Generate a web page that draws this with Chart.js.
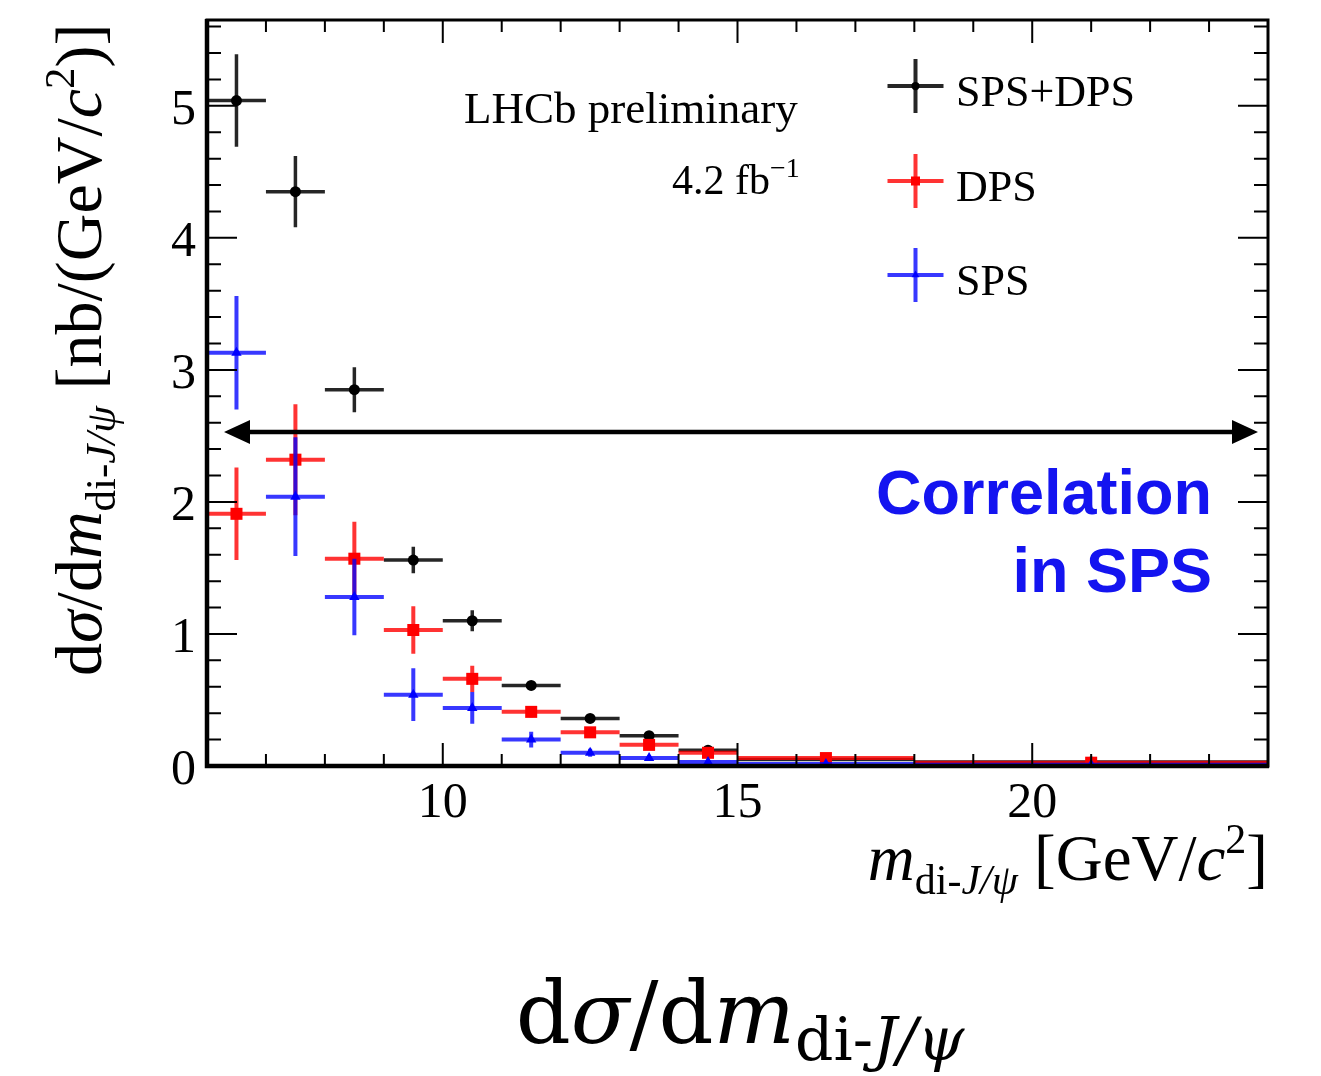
<!DOCTYPE html>
<html>
<head>
<meta charset="utf-8">
<script src="https://cdn.jsdelivr.net/npm/chart.js@4.4.1/dist/chart.umd.min.js"></script>
<style>
  html, body { margin: 0; padding: 0; background: #fff; }
  #wrap { width: 1321px; height: 1076px; }
</style>
</head>
<body>
<div id="wrap"><canvas id="chart" width="1321" height="1076"></canvas></div>
<script>
// bin edges of m(di-J/psi) [GeV/c^2]
const binEdges = [6, 7, 8, 9, 10, 11, 12, 13, 14, 15, 18, 24];

// dsigma/dm [nb/(GeV/c^2)] with errors
const totalValues = [5.04, 4.35, 2.85, 1.56, 1.10, 0.61, 0.36, 0.23, 0.12, 0.05, 0.03];
const totalErrors = [0.35, 0.27, 0.17, 0.10, 0.08, 0.03, 0.02, 0.02, 0.02, 0.01, 0.01];
const dpsValues = [1.91, 2.32, 1.57, 1.03, 0.66, 0.41, 0.255, 0.16, 0.10, 0.06, 0.025];
const dpsErrors = [0.35, 0.42, 0.28, 0.18, 0.10, 0.04, 0.03, 0.02, 0.02, 0.01, 0.01];
const spsValues = [3.13, 2.04, 1.28, 0.54, 0.44, 0.20, 0.10, 0.06, 0.03, 0.015, 0.01];
const spsErrors = [0.43, 0.45, 0.29, 0.20, 0.12, 0.06, 0.03, 0.02, 0.02, 0.01, 0.01];

const xTicks = [10, 15, 20];
const yTicks = [0, 1, 2, 3, 4, 5];

const serif = '"Liberation Serif", "Times New Roman", serif';

const series = [
    { label: "SPS+DPS", values: totalValues, errors: totalErrors, color: "#000000", bar: "rgba(0,0,0,0.85)", style: "circle", radius: 5.5, lw: 3.5, order: 3 },
    { label: "DPS", values: dpsValues, errors: dpsErrors, color: "#ff0000", bar: "rgba(255,0,0,0.8)", style: "rect", radius: 8.5, lw: 4, order: 2 },
    { label: "SPS", values: spsValues, errors: spsErrors, color: "#0000ff", bar: "rgba(0,0,255,0.78)", style: "triangle", radius: 6, lw: 4, order: 1 },
];

function binCenter(i) {
    return (binEdges[i] + binEdges[i + 1]) / 2;
}

// draw a row of text pieces (font changes, sub/superscripts)
function runsWidth(ctx, runs) {
    let w = 0;
    runs.forEach(r => { ctx.font = r.font; w += ctx.measureText(r.t).width; });
    return w;
}
function drawRuns(ctx, runs, x, y) {
    runs.forEach(r => {
        ctx.font = r.font;
        ctx.fillText(r.t, x, y + (r.dy || 0));
        x += ctx.measureText(r.t).width;
    });
    return x;
}

// error bars: drawn just before each dataset's markers
const errorBars = {
    id: "errorBars",
    beforeDatasetDraw(chart, args) {
        const s = series[args.index];
        const ctx = chart.ctx, xs = chart.scales.x, ys = chart.scales.y, a = chart.chartArea;
        ctx.save();
        ctx.beginPath();
        ctx.rect(a.left, a.top, a.right - a.left, a.bottom - a.top);
        ctx.clip();
        ctx.strokeStyle = s.bar;
        ctx.lineWidth = s.lw;
        s.values.forEach((v, i) => {
            const x1 = xs.getPixelForValue(binEdges[i]);
            const x2 = xs.getPixelForValue(binEdges[i + 1]);
            const xc = xs.getPixelForValue(binCenter(i));
            const yc = ys.getPixelForValue(v);
            const yt = ys.getPixelForValue(v + s.errors[i]);
            const yb = ys.getPixelForValue(Math.max(0, v - s.errors[i]));
            ctx.beginPath();
            ctx.moveTo(x1, yc); ctx.lineTo(x2, yc);
            ctx.moveTo(xc, yt); ctx.lineTo(xc, yb);
            ctx.stroke();
        });
        ctx.restore();
    }
};

// ROOT style frame with inward ticks on all four sides
const frame = {
    id: "frame",
    afterDraw(chart) {
        const ctx = chart.ctx, xs = chart.scales.x, ys = chart.scales.y, a = chart.chartArea;
        ctx.save();
        ctx.strokeStyle = "#000";
        ctx.lineWidth = 2;
        for (let v = 6; v <= 24; v += 1) {
            const x = xs.getPixelForValue(v);
            const len = v % 5 === 0 ? 23 : 12;
            ctx.beginPath();
            ctx.moveTo(x, a.bottom); ctx.lineTo(x, a.bottom - len);
            ctx.moveTo(x, a.top); ctx.lineTo(x, a.top + len);
            ctx.stroke();
        }
        for (let k = 0; k <= 28; k++) {
            const v = k * 0.2;
            const y = ys.getPixelForValue(v);
            const len = k % 5 === 0 ? 30 : 14;
            ctx.beginPath();
            ctx.moveTo(a.left, y); ctx.lineTo(a.left + len, y);
            ctx.moveTo(a.right, y); ctx.lineTo(a.right - len, y);
            ctx.stroke();
        }
        ctx.lineWidth = 3;
        ctx.strokeRect(a.left, a.top, a.right - a.left, a.bottom - a.top);
        ctx.lineWidth = 4.5;
        ctx.beginPath();
        ctx.moveTo(a.left, a.top - 1); ctx.lineTo(a.left, a.bottom); ctx.lineTo(a.right + 1, a.bottom);
        ctx.stroke();
        ctx.restore();
    }
};

// texts, legend, arrow
const annotations = {
    id: "annotations",
    afterDraw(chart) {
        const ctx = chart.ctx, a = chart.chartArea;
        ctx.save();
        ctx.fillStyle = "#000";
        ctx.textBaseline = "alphabetic";
        ctx.textAlign = "left";

        ctx.font = "45px " + serif;
        ctx.fillText("LHCb preliminary", 464, 123);
        drawRuns(ctx, [
            { t: "4.2 fb", font: "42px " + serif },
            { t: "\u22121", font: "28px " + serif, dy: -17 }
        ], 672, 194);

        // legend
        const rows = [86, 181, 275];
        series.forEach((s, i) => {
            const y = rows[i], x = 915.5;
            ctx.strokeStyle = s.bar;
            ctx.lineWidth = 4;
            ctx.beginPath();
            ctx.moveTo(x - 28, y); ctx.lineTo(x + 28, y);
            ctx.moveTo(x, y - 27); ctx.lineTo(x, y + 27);
            ctx.stroke();
            ctx.fillStyle = s.color;
            Chart.helpers.drawPoint(ctx, { pointStyle: s.style, radius: s.radius * 0.75, rotation: 0, borderWidth: 0 }, x, y);
            ctx.fillStyle = "#000";
            ctx.font = "44px " + serif;
            ctx.fillText(s.label, 956, y + 20);
        });

        // double arrow
        const ay = 432, ax1 = 224, ax2 = 1258;
        ctx.strokeStyle = "#000";
        ctx.lineWidth = 4.5;
        ctx.beginPath();
        ctx.moveTo(ax1 + 20, ay); ctx.lineTo(ax2 - 20, ay);
        ctx.stroke();
        ctx.beginPath();
        ctx.moveTo(ax1, ay); ctx.lineTo(ax1 + 26, ay - 12); ctx.lineTo(ax1 + 26, ay + 12); ctx.closePath();
        ctx.moveTo(ax2, ay); ctx.lineTo(ax2 - 26, ay - 12); ctx.lineTo(ax2 - 26, ay + 12); ctx.closePath();
        ctx.fillStyle = "#000";
        ctx.fill();

        ctx.fillStyle = "#1414f0";
        ctx.textAlign = "right";
        ctx.font = 'bold 63px "Liberation Sans", Arial, sans-serif';
        ctx.fillText("Correlation", 1212, 514);
        ctx.fillText("in SPS", 1212, 592);
        ctx.textAlign = "left";
        ctx.fillStyle = "#000";

        // x axis title, right aligned to the frame
        const xt = [
            { t: "m", font: "italic 65px " + serif },
            { t: "di-", font: "42px " + serif, dy: 14 },
            { t: "J/\u03C8", font: "italic 42px " + serif, dy: 14 },
            { t: " [GeV/", font: "65px " + serif },
            { t: "c", font: "italic 65px " + serif },
            { t: "2", font: "42px " + serif, dy: -27 },
            { t: "]", font: "65px " + serif }
        ];
        drawRuns(ctx, xt, a.right - runsWidth(ctx, xt), 880);

        // y axis title, rotated
        const yt = [
            { t: "d", font: "66px " + serif },
            { t: "\u03C3", font: "italic 66px " + serif },
            { t: "/d", font: "66px " + serif },
            { t: "m", font: "italic 66px " + serif },
            { t: "di-", font: "43px " + serif, dy: 14 },
            { t: "J/\u03C8", font: "italic 43px " + serif, dy: 14 },
            { t: " [nb/(GeV/", font: "66px " + serif },
            { t: "c", font: "italic 66px " + serif },
            { t: "2", font: "43px " + serif, dy: -27 },
            { t: ")]", font: "66px " + serif }
        ];
        ctx.save();
        ctx.translate(101, 676);
        ctx.rotate(-Math.PI / 2);
        drawRuns(ctx, yt, 0, 0);
        ctx.restore();

        // formula under the plot
        const f = '"DejaVu Serif", serif';
        const bt = [
            { t: "d", font: "86px " + f },
            { t: "\u03C3", font: "italic 86px " + f },
            { t: "/", font: "86px " + f },
            { t: "d", font: "86px " + f },
            { t: "m", font: "italic 86px " + f },
            { t: "di-", font: "60px " + f, dy: 17 },
            { t: "J/\u03C8", font: "italic 60px " + f, dy: 17 }
        ];
        drawRuns(ctx, bt, 740 - runsWidth(ctx, bt) / 2, 1043);

        ctx.restore();
    }
};

new Chart(document.getElementById("chart"), {
    type: "scatter",
    data: {
        datasets: series.map(s => ({
            label: s.label,
            data: s.values.map((v, i) => ({ x: binCenter(i), y: v })),
            pointStyle: s.style,
            pointRadius: s.radius,
            pointHoverRadius: s.radius,
            pointBackgroundColor: s.color,
            pointBorderWidth: 0,
            borderColor: s.color,
            showLine: false,
            order: s.order
        }))
    },
    options: {
        responsive: false,
        animation: false,
        devicePixelRatio: 1,
        layout: { padding: { left: 0, top: 20, right: 53, bottom: 0 } },
        plugins: { legend: { display: false }, tooltip: { enabled: false } },
        scales: {
            x: {
                type: "linear",
                min: 6,
                max: 24,
                grid: { display: false, drawTicks: false },
                border: { display: false },
                afterBuildTicks: scale => { scale.ticks = xTicks.map(v => ({ value: v })); },
                afterFit: scale => { scale.height = 310; },
                ticks: { color: "#000", padding: 8, font: { family: serif, size: 50 } }
            },
            y: {
                min: 0,
                max: 5.65,
                grid: { display: false, drawTicks: false },
                border: { display: false },
                afterBuildTicks: scale => { scale.ticks = yTicks.map(v => ({ value: v })); },
                afterFit: scale => { scale.width = 207; },
                ticks: { color: "#000", padding: 11, labelOffset: 5, font: { family: serif, size: 50, lineHeight: 0.2 } }
            }
        }
    },
    plugins: [errorBars, frame, annotations]
});
</script>
</body>
</html>
